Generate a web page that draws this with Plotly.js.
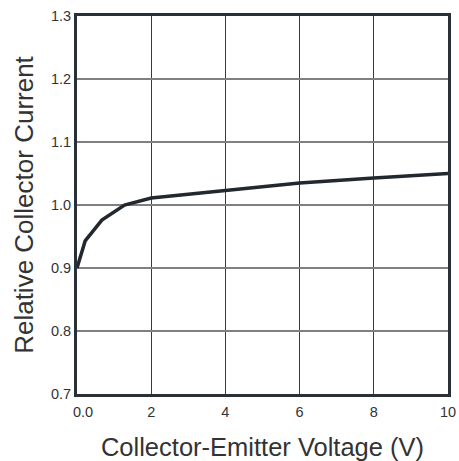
<!DOCTYPE html>
<html><head><meta charset="utf-8">
<script src="https://cdn.plot.ly/plotly-3.0.1.min.js"></script>
<style>html,body{margin:0;padding:0;background:#fff}#chart{width:459px;height:461px}</style>
</head><body><div id="chart"></div>
<script>
const voltage = [0, 0.22, 0.67, 1.28, 2, 4, 6, 8, 10];
const relCurrent = [0.9, 0.943, 0.976, 1.0, 1.011, 1.023, 1.035, 1.043, 1.05];
const xTickVals = [0, 2, 4, 6, 8, 10];
const xTickText = ["0.0", "2", "4", "6", "8", "10"];
const yTickVals = [0.7, 0.8, 0.9, 1.0, 1.1, 1.2, 1.3];
const yTickText = ["0.7", "0.8", "0.9", "1.0", "1.1", "1.2", "1.3"];

// first x label sits slightly right of the axis corner in the reference
const xTickShown = xTickText.map((t, i) => i === 0 ? '\u00a0\u00a0\u00a0' + t : t);

const trace = {x: voltage, y: relCurrent, mode: 'lines', type: 'scatter',
  line: {color: '#22282e', width: 3.5}, hoverinfo: 'none'};
const layout = {
  width: 459, height: 461,
  margin: {l: 77, r: 11, t: 16, b: 67},
  paper_bgcolor: '#fff', plot_bgcolor: '#fff',
  font: {family: 'Liberation Sans, Arial, sans-serif', color: '#333'},
  showlegend: false,
  xaxis: {range: [0, 10], tickvals: xTickVals, ticktext: xTickShown,
    showgrid: true, gridcolor: '#3a3a3a', gridwidth: 1, zeroline: false,
    showline: true, linecolor: '#2a3038', linewidth: 3, mirror: true,
    ticks: '', ticklen: 0, tickfont: {size: 14.5, color: '#333'},
    ticklabelstandoff: 3,
    automargin: false,
    title: {text: 'Collector-Emitter Voltage (V)', font: {size: 25.5, color: '#333'}, standoff: 19}},
  yaxis: {range: [0.7, 1.3], tickvals: yTickVals, ticktext: yTickText,
    showgrid: true, gridcolor: '#808080', gridwidth: 1.5, zeroline: false,
    showline: true, linecolor: '#2a3038', linewidth: 3, mirror: true,
    ticks: '', ticklen: 0, tickfont: {size: 14.5, color: '#333'},
    automargin: false,
    title: {text: 'Relative Collector Current', font: {size: 26, color: '#333'}, standoff: 10}}
};
Plotly.newPlot('chart', [trace], layout, {displayModeBar: false, staticPlot: true});
</script></body></html>
